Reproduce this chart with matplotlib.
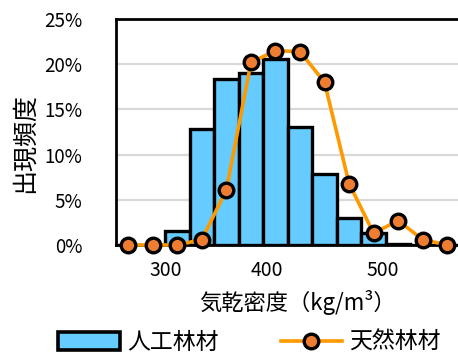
import matplotlib.pyplot as plt
from matplotlib.lines import Line2D
from matplotlib.patches import Patch
import numpy as np

plt.rcParams['font.family'] = ['Noto Sans CJK JP', 'DejaVu Sans']

# frequency (%) per density class
planted = [0, 0, 1.5, 12.8, 18.4, 19.0, 20.6, 13.1, 7.8, 3.0, 1.3, 0.15, 0, 0]
natural = [0, 0, 0, 0.6, 6.1, 20.2, 21.5, 21.4, 18.0, 6.8, 1.3, 2.7, 0.6, 0]
tick_labels = ["300", "400", "500"]
tick_at = [1.53, 5.64, 10.37]

x = np.arange(len(planted))

fig = plt.figure(figsize=(4.58, 3.53), dpi=100)
ax = fig.add_axes([0.2533, 0.306, 0.7467, 0.640])

ax.bar(x, planted, width=1.0, color="#66CCFF", edgecolor="black", linewidth=2.4, zorder=2)
ax.plot(x, natural, color="#FF9900", linewidth=2.6, marker="o", markersize=10.5,
        markerfacecolor="#ED7D31", markeredgecolor="black", markeredgewidth=2.4,
        zorder=3, clip_on=False)

ax.set_xlim(-0.5, 13.44)
ax.set_ylim(0, 25)
ax.set_yticks([0, 5, 10, 15, 20, 25])
ax.set_yticklabels([f"{v}%" for v in [0, 5, 10, 15, 20, 25]], fontsize=13.5)
ax.set_xticks(tick_at)
ax.set_xticklabels(tick_labels, fontsize=14)
ax.tick_params(axis="y", length=0, pad=24)
ax.tick_params(axis="x", length=0, pad=11)

for v in [5, 10, 15, 20]:
    ax.axhline(v, color="#D9D9D9", linewidth=1.6, zorder=0)

for s in ["left", "top", "bottom"]:
    ax.spines[s].set_linewidth(2)
ax.spines["right"].set_visible(False)

ax.set_xlabel("気乾密度（kg/m³）", fontsize=16, labelpad=3)
ax.xaxis.set_label_coords(0.53, -0.2)
fig.text(0.055, 0.595, "出現頻度", rotation=90, fontsize=18, ha="center", va="center")

handles = [
    Patch(facecolor="#66CCFF", edgecolor="black", linewidth=2.6),
    Line2D([0], [0], color="#FF9900", linewidth=2.6, marker="o", markersize=10.5,
           markerfacecolor="#ED7D31", markeredgecolor="black", markeredgewidth=2.4),
]
fig.legend(handles, ["人工林材", "天然林材"], loc="center", bbox_to_anchor=(0.545, 0.03),
           ncol=2, frameon=False, fontsize=16.5, handlelength=2.7, handleheight=0.8,
           columnspacing=2.7, handletextpad=0.3)

fig.savefig("out.png", dpi=100)
